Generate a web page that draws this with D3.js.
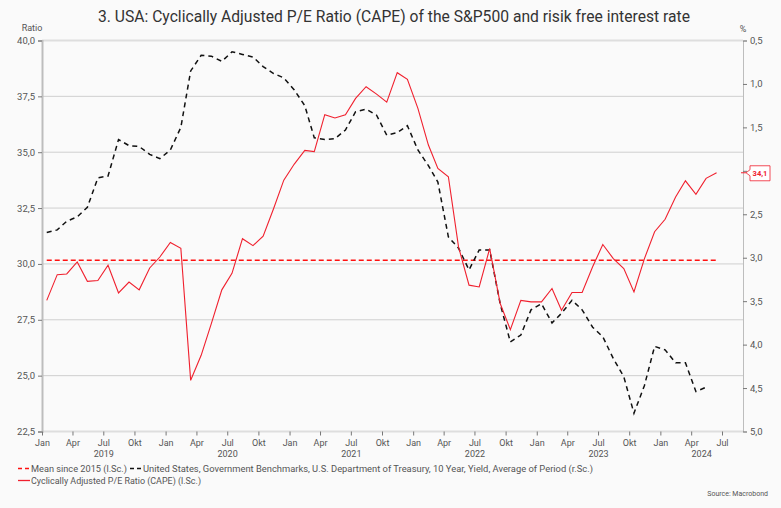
<!DOCTYPE html>
<html>
<head>
<meta charset="utf-8">
<script src="https://cdn.jsdelivr.net/npm/d3@7"></script>
<style>
    body { margin: 0; background: #fafafa; }
    text { font-family: Roboto, "Noto Sans", sans-serif; }
</style>
</head>
<body>
<svg id="chart" width="781" height="508"></svg>
<script>
'use strict';

// Monthly data, Jan 2019 onwards
const firstMonth = new Date(2019, 0, 15);

// Cyclically Adjusted P/E Ratio (left scale)
const cape = [
    28.37, 29.52, 29.55, 30.09, 29.22, 29.26, 29.94, 28.70, 29.19, 28.84, 29.82, 30.31,
    30.96, 30.70, 24.79, 25.91, 27.33, 28.84, 29.58, 31.13, 30.82, 31.24, 32.48, 33.75,
    34.47, 35.08, 35.03, 36.68, 36.53, 36.68, 37.41, 37.93, 37.60, 37.24, 38.56, 38.26,
    36.96, 35.32, 34.27, 33.90, 30.76, 29.05, 28.97, 30.69, 28.23, 27.06, 28.37, 28.30,
    28.30, 28.90, 27.93, 28.72, 28.72, 29.87, 30.87, 30.24, 29.79, 28.75, 30.24, 31.44,
    32.00, 33.00, 33.72, 33.12, 33.83, 34.08
];

// US 10Y government yield, % (right scale, inverted)
const yields = [
    2.71, 2.68, 2.58, 2.53, 2.42, 2.08, 2.06, 1.64, 1.71, 1.72, 1.81, 1.86,
    1.76, 1.50, 0.85, 0.67, 0.68, 0.74, 0.63, 0.66, 0.69, 0.80, 0.88, 0.93,
    1.07, 1.25, 1.62, 1.64, 1.63, 1.53, 1.32, 1.29, 1.36, 1.59, 1.56, 1.48,
    1.76, 1.94, 2.13, 2.76, 2.89, 3.14, 2.91, 2.91, 3.53, 3.97, 3.89, 3.60,
    3.53, 3.75, 3.64, 3.49, 3.60, 3.80, 3.91, 4.16, 4.37, 4.79, 4.47, 4.02,
    4.06, 4.21, 4.21, 4.54, 4.49
];

const capeMean = 30.17;

const leftTicks = [22.5, 25, 27.5, 30, 32.5, 35, 37.5, 40];
const rightTicks = [0.5, 1, 1.5, 2, 2.5, 3, 3.5, 4, 4.5, 5];
const monthNames = ['Jan', 'Apr', 'Jul', 'Okt'];
const years = [2019, 2020, 2021, 2022, 2023, 2024];

const titleText = '3. USA: Cyclically Adjusted P/E Ratio (CAPE) of the S&P500 and risik free interest rate';
const legendMean = 'Mean since 2015 (l.Sc.)';
const legendYield = 'United States, Government Benchmarks, U.S. Department of Treasury, 10 Year, Yield, Average of Period (r.Sc.)';
const legendCape = 'Cyclically Adjusted P/E Ratio (CAPE) (l.Sc.)';

const RED = '#f0202e';
const MEAN_RED = '#ff1010';
const GRID = '#cfcfcf';
const AXIS = '#bdbdbd';
const LABEL = '#555';

const svg = d3.select('#chart');
const plot = { left: 42, right: 743, top: 40.5, bottom: 431.5 };

const x = d3.scaleTime()
    .domain([new Date(2019, 0, 1), new Date(2024, 8, 1)])
    .range([plot.left, plot.right]);
const yL = d3.scaleLinear().domain([22.5, 40]).range([plot.bottom, plot.top]);
const yR = d3.scaleLinear().domain([0.5, 5]).range([plot.top, plot.bottom]);

const monthDate = i => d3.timeMonth.offset(firstMonth, i);
const comma = v => d3.format('.1f')(v).replace('.', ',');

// Title
svg.append('text')
    .attr('x', 394).attr('y', 22)
    .attr('text-anchor', 'middle')
    .attr('font-size', 16.5)
    .attr('fill', '#333')
    .attr('textLength', 592)
    .attr('lengthAdjust', 'spacingAndGlyphs')
    .text(titleText);

// Gridlines (left scale)
svg.append('g').selectAll('line')
    .data(leftTicks)
    .join('line')
    .attr('x1', plot.left).attr('x2', plot.right)
    .attr('y1', d => yL(d)).attr('y2', d => yL(d))
    .attr('stroke', d => (d === 40 || d === 22.5) ? '#dedede' : GRID)
    .attr('stroke-width', d => (d === 40 || d === 22.5) ? 2 : 1);

// Left axis
const leftAxis = svg.append('g')
    .attr('transform', `translate(${plot.left},0)`)
    .call(d3.axisLeft(yL).tickValues(leftTicks).tickFormat(comma).tickSize(4).tickPadding(3));
leftAxis.select('.domain').attr('stroke', AXIS).attr('stroke-width', 2);
leftAxis.selectAll('.tick line').attr('stroke', '#777');
leftAxis.selectAll('.tick text').attr('fill', LABEL).attr('font-size', 9.5);

// Right axis (the 2,0 label sits under the last-value box)
const lastCape = cape[cape.length - 1];
const rightAxis = svg.append('g')
    .attr('transform', `translate(${plot.right},0)`)
    .call(d3.axisRight(yR).tickValues(rightTicks)
        .tickFormat(d => d === 2 ? '' : comma(d)).tickSize(4).tickPadding(3));
rightAxis.select('.domain').attr('stroke', AXIS).attr('stroke-width', 1);
rightAxis.selectAll('.tick line').attr('stroke', '#777');
rightAxis.selectAll('.tick text').attr('fill', LABEL).attr('font-size', 9.5);

svg.append('text').attr('x', 32).attr('y', 31).attr('text-anchor', 'middle')
    .attr('font-size', 9).attr('fill', LABEL).text('Ratio');
svg.append('text').attr('x', 743).attr('y', 32).attr('text-anchor', 'middle')
    .attr('font-size', 9).attr('fill', LABEL).text('%');

// Bottom axis
const quarterTicks = d3.timeMonth.every(3).range(new Date(2019, 0, 1), new Date(2024, 7, 1));
const bottomAxis = svg.append('g')
    .attr('transform', `translate(0,${plot.bottom})`)
    .call(d3.axisBottom(x).tickValues(quarterTicks)
        .tickFormat(d => monthNames[d.getMonth() / 3]).tickSize(4).tickPadding(4));
bottomAxis.select('.domain').remove();
bottomAxis.selectAll('.tick line').attr('stroke', '#777');
bottomAxis.selectAll('.tick text').attr('fill', LABEL).attr('font-size', 9);

// Year labels centred on the visible part of each year
svg.append('g').selectAll('text')
    .data(years)
    .join('text')
    .attr('x', d => (x(new Date(d, 0, 1)) + Math.min(x(new Date(d + 1, 0, 1)), plot.right)) / 2)
    .attr('y', 457)
    .attr('text-anchor', 'middle')
    .attr('font-size', 9)
    .attr('fill', LABEL)
    .text(d => d);

// Mean line
svg.append('line')
    .attr('x1', x(monthDate(0))).attr('x2', x(monthDate(cape.length - 1)))
    .attr('y1', yL(capeMean)).attr('y2', yL(capeMean))
    .attr('stroke', MEAN_RED)
    .attr('stroke-width', 1.5)
    .attr('stroke-dasharray', '5,3');

// Yield line
const yieldLine = d3.line()
    .x((d, i) => x(monthDate(i)))
    .y(d => yR(d));
svg.append('path')
    .datum(yields)
    .attr('d', yieldLine)
    .attr('fill', 'none')
    .attr('stroke', '#111')
    .attr('stroke-width', 1.5)
    .attr('stroke-dasharray', '5,4');

// CAPE line
const capeLine = d3.line()
    .x((d, i) => x(monthDate(i)))
    .y(d => yL(d));
svg.append('path')
    .datum(cape)
    .attr('d', capeLine)
    .attr('fill', 'none')
    .attr('stroke', RED)
    .attr('stroke-width', 1.1);

// Last value label
const ly = yL(lastCape);
svg.append('line')
    .attr('x1', plot.right - 2).attr('x2', plot.right + 3)
    .attr('y1', ly).attr('y2', ly)
    .attr('stroke', RED).attr('stroke-width', 1);
svg.append('path')
    .attr('d', `M${plot.right + 3},${ly} L750,${ly - 3} L750,${ly - 7} L770,${ly - 7} L770,${ly + 8} L750,${ly + 8} L750,${ly + 3} Z`)
    .attr('fill', '#fff')
    .attr('stroke', RED)
    .attr('stroke-width', 0.8);
svg.append('text')
    .attr('x', 760).attr('y', ly + 3)
    .attr('text-anchor', 'middle')
    .attr('font-size', 7.5)
    .attr('font-weight', 'bold')
    .attr('fill', RED)
    .text(comma(lastCape));

// Legend
const legend = svg.append('g').attr('font-size', 9.5).attr('fill', LABEL);

legend.append('line')
    .attr('x1', 18).attr('x2', 30).attr('y1', 468.5).attr('y2', 468.5)
    .attr('stroke', MEAN_RED).attr('stroke-width', 1.5).attr('stroke-dasharray', '4,3');
legend.append('text').attr('x', 31).attr('y', 472)
    .attr('textLength', 96).attr('lengthAdjust', 'spacingAndGlyphs').text(legendMean);

legend.append('line')
    .attr('x1', 130).attr('x2', 142).attr('y1', 468.5).attr('y2', 468.5)
    .attr('stroke', '#111').attr('stroke-width', 1.5).attr('stroke-dasharray', '4,3');
legend.append('text').attr('x', 143).attr('y', 472)
    .attr('textLength', 450).attr('lengthAdjust', 'spacingAndGlyphs').text(legendYield);

legend.append('line')
    .attr('x1', 18).attr('x2', 30).attr('y1', 480.5).attr('y2', 480.5)
    .attr('stroke', RED).attr('stroke-width', 1.3);
legend.append('text').attr('x', 31).attr('y', 484)
    .attr('textLength', 170).attr('lengthAdjust', 'spacingAndGlyphs').text(legendCape);

svg.append('text')
    .attr('x', 768).attr('y', 496)
    .attr('text-anchor', 'end')
    .attr('font-size', 7)
    .attr('fill', LABEL)
    .text('Source: Macrobond');
</script>
</body>
</html>
